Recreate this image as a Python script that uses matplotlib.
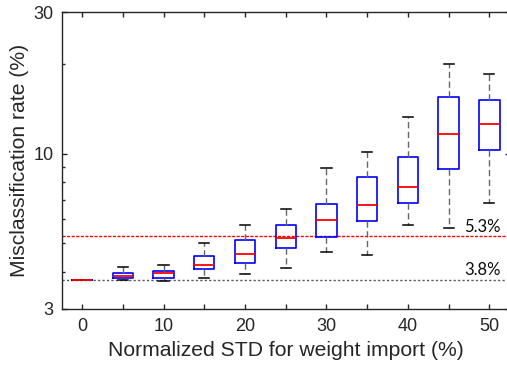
import matplotlib
matplotlib.use("Agg")
import matplotlib.pyplot as plt
from matplotlib.ticker import FixedLocator, FixedFormatter, NullFormatter

# ---- data ----
std_levels = [0, 5, 10, 15, 20, 25, 30, 35, 40, 45, 50]
whisker_low = [3.75, 3.75, 3.73, 3.81, 3.94, 4.13, 4.66, 4.57, 5.73, 5.60, 6.84]
q1_vals     = [3.75, 3.81, 3.80, 4.09, 4.28, 4.81, 5.25, 5.93, 6.84, 8.87, 10.28]
median_vals = [3.75, 3.88, 3.95, 4.20, 4.58, 5.20, 5.96, 6.73, 7.75, 11.64, 12.55]
q3_vals     = [3.75, 3.95, 4.03, 4.52, 5.13, 5.75, 6.77, 8.36, 9.74, 15.52, 15.13]
whisker_high = [3.75, 4.14, 4.20, 5.01, 5.75, 6.52, 8.96, 10.15, 13.29, 20.06, 18.56]

ref_red = 5.27
ref_red_label = "5.3%"
ref_black = 3.75
ref_black_label = "3.8%"

x_major = [0, 10, 20, 30, 40, 50]
x_minor = [5, 15, 25, 35, 45]
y_major = [3, 10, 30]
y_major_labels = ["3", "10", "30"]
y_minor = [4, 5, 6, 7, 8, 9, 20]

xlabel = "Normalized STD for weight import (%)"
ylabel = "Misclassification rate (%)"

# ---- figure ----
plt.rcParams['font.family'] = ['Liberation Sans', 'DejaVu Sans']
fig = plt.figure(figsize=(5.07, 3.70), dpi=100)
ax = fig.add_axes([61.7 / 507, 61.3 / 370, 448.0 / 507, 296.4 / 370])

stats = []
for lo, a, m, b, hi in zip(whisker_low, q1_vals, median_vals, q3_vals, whisker_high):
    stats.append(dict(whislo=lo, q1=a, med=m, q3=b, whishi=hi, fliers=[]))

ax.axhline(ref_red, color='red', lw=1.0, ls=(0, (2.2, 1.1)), zorder=1)
ax.axhline(ref_black, color='0.35', lw=1.0, ls=(0, (1.6, 1.6)), zorder=1)

ax.bxp(stats, positions=std_levels, widths=2.5, showfliers=False,
       boxprops=dict(color='blue', lw=1.2),
       medianprops=dict(color='red', lw=1.3),
       whiskerprops=dict(color='0.4', lw=1.0, ls=(0, (4.5, 2.5))),
       capprops=dict(color='black', lw=1.1),
       manage_ticks=False, zorder=3)

ax.set_yscale('log')
ax.set_xlim(-2.5, 52.5)
ax.set_ylim(3, 30)

ax.xaxis.set_major_locator(FixedLocator(x_major))
ax.xaxis.set_minor_locator(FixedLocator(x_minor))
ax.xaxis.set_minor_formatter(NullFormatter())
ax.yaxis.set_major_locator(FixedLocator(y_major))
ax.yaxis.set_major_formatter(FixedFormatter(y_major_labels))
ax.yaxis.set_minor_locator(FixedLocator(y_minor))
ax.yaxis.set_minor_formatter(NullFormatter())

ax.tick_params(axis='both', which='both', direction='in', top=True, right=True,
               colors='0.15', labelsize=13, width=1.0)
ax.tick_params(axis='x', which='both', length=3.6, pad=7)
ax.tick_params(axis='y', which='major', length=3.6, pad=6)
ax.tick_params(axis='y', which='minor', length=2.2)
for s in ax.spines.values():
    s.set_color('0.15')
    s.set_linewidth(1.0)

ax.set_xlabel(xlabel, fontsize=15.2, color='0.15', labelpad=4)
ax.set_ylabel(ylabel, fontsize=15.2, color='0.15', labelpad=3)

ax.annotate(ref_red_label, xy=(51.44, ref_red), xytext=(0, 3.0), textcoords='offset points',
            ha='right', va='baseline', fontsize=12, family=['Lato', 'DejaVu Sans'], color='0.05')
ax.annotate(ref_black_label, xy=(51.44, ref_black), xytext=(0, 3.9), textcoords='offset points',
            ha='right', va='baseline', fontsize=12, family=['Lato', 'DejaVu Sans'], color='0.05')

fig.savefig("out.png", dpi=100)
